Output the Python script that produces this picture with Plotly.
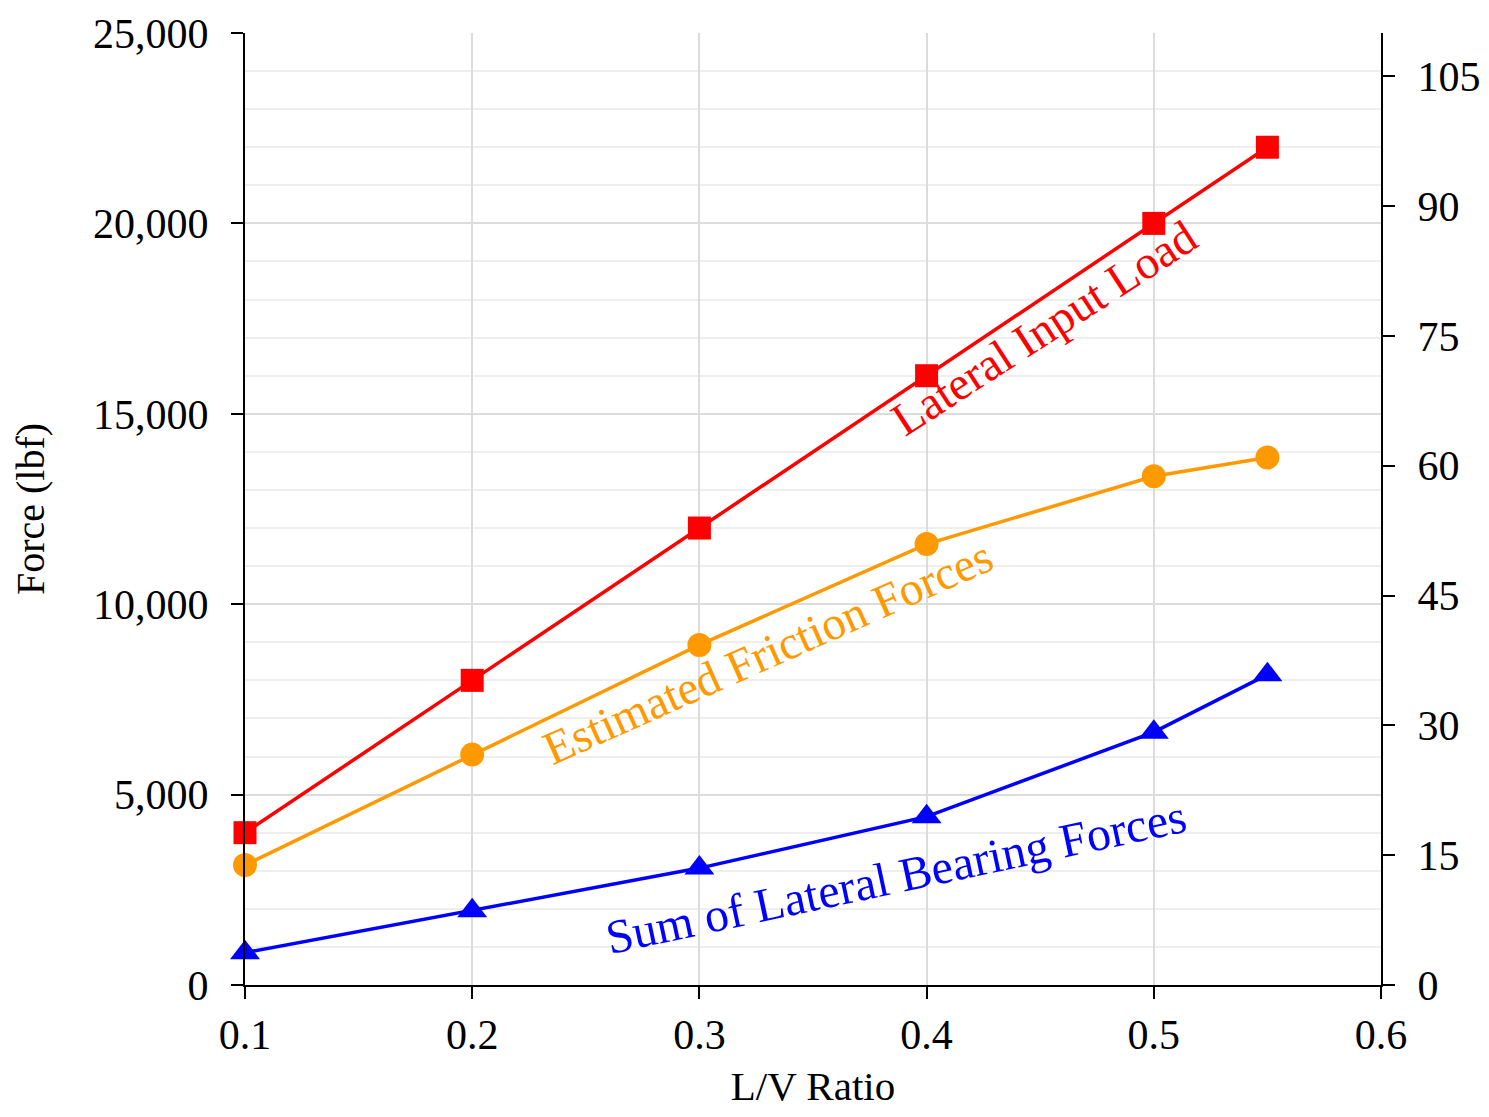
import plotly.graph_objects as go

# Data
lv_ratio = [0.1, 0.2, 0.3, 0.4, 0.5, 0.55]
lateral_input_load = [4000, 8000, 12000, 16000, 20000, 22000]
friction_forces = [3150, 6050, 8930, 11580, 13360, 13850]
bearing_forces = [850, 1950, 3070, 4420, 6640, 8150]

series_names = ["Lateral Input Load", "Estimated Friction Forces", "Sum of Lateral Bearing Forces"]
label_x = [0.4517, 0.3302, 0.3865]
label_y = [17250, 8745, 2850]
label_angle = [-33, -24, -12]
label_size = [47, 47, 48]

FONT = "Liberation Serif"
colors = ["#ff0000", "#ff9900", "#0000ff"]
symbols = ["square", "circle", "triangle-up"]
sizes = [23, 24, 26]

fig = go.Figure()
for name, vals, c, s, sz in zip(series_names,
                                [lateral_input_load, friction_forces, bearing_forces],
                                colors, symbols, sizes):
    fig.add_trace(go.Scatter(x=lv_ratio, y=vals, mode="lines+markers", name=name,
                             line=dict(color=c, width=3.5),
                             marker=dict(symbol=s, size=sz, color=c),
                             showlegend=False, cliponaxis=False))

# Invisible trace to anchor secondary axis
fig.add_trace(go.Scatter(x=[None], y=[None], yaxis="y2", showlegend=False, hoverinfo="skip"))

for name, x, y, a, c, fs in zip(series_names, label_x, label_y, label_angle, colors, label_size):
    fig.add_annotation(x=x, y=y, text=name, textangle=a, showarrow=False,
                       font=dict(family=FONT, size=fs, color=c),
                       xanchor="center", yanchor="middle")

fig.update_layout(
    width=1473, height=1101,
    margin=dict(l=237, r=100, t=25, b=124),
    plot_bgcolor="white", paper_bgcolor="white",
    font=dict(family=FONT, size=42, color="black"),
    xaxis=dict(range=[0.1, 0.6], dtick=0.1, tick0=0.1, automargin=False,
               showgrid=True, gridcolor="#dcdcdc", gridwidth=2,
               showline=True, linecolor="black", linewidth=2,
               ticks="outside", ticklen=12, tickwidth=2, tickcolor="black",
               zeroline=False,
               title=dict(text="L/V Ratio", font=dict(size=41), standoff=22)),
    yaxis=dict(range=[0, 25000], dtick=5000, tickformat=",d", automargin=False,
               showgrid=True, gridcolor="#dcdcdc", gridwidth=2,
               minor=dict(dtick=1000, showgrid=True, gridcolor="#eeeeee", gridwidth=2),
               showline=True, linecolor="black", linewidth=2,
               ticks="outside", ticklen=12, tickwidth=2, tickcolor="black",
               zeroline=False, ticklabelstandoff=14,
               title=dict(text="Force (lbf)", font=dict(size=40), standoff=40)),
    yaxis2=dict(range=[0, 110], dtick=15, overlaying="y", side="right", automargin=False,
                showgrid=False, showline=True, linecolor="black", linewidth=2,
                ticks="outside", ticklen=12, tickwidth=2, tickcolor="black",
                zeroline=False, ticklabelstandoff=14),
)

fig.write_html("out.html")
